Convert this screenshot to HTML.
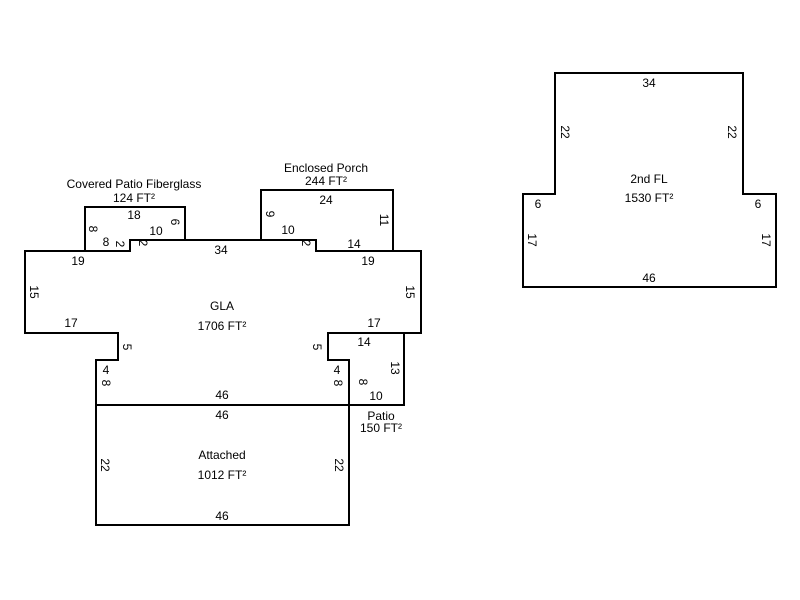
<!DOCTYPE html>
<html><head><style>body{margin:0;background:#fff}svg{display:block}text{font-family:"Liberation Sans",Arial,sans-serif;font-size:12px;fill:#000}</style></head>
<body>
<svg width="800" height="600" viewBox="0 0 800 600" xmlns="http://www.w3.org/2000/svg">
<g fill="none" stroke="#000" stroke-width="2">
<polygon points="25,251 130,251 130,240 316,240 316,251 421,251 421,333 328,333 328,360 349,360 349,405 96,405 96,360 118,360 118,333 25,333"/>
<polyline points="85,251 85,207 185,207 185,240"/>
<polyline points="261,240 261,190 393,190 393,251"/>
<polyline points="349,333 404,333 404,405 349,405"/>
<rect x="96" y="405" width="253" height="120"/>
<polygon points="555,73 743,73 743,194 776,194 776,287 523,287 523,194 555,194"/>
</g>
<g text-anchor="middle" dominant-baseline="central">
<text x="134" y="184">Covered Patio Fiberglass</text>
<text x="134" y="198">124 FT²</text>
<text x="134" y="215">18</text>
<text x="156" y="231">10</text>
<text x="106" y="242">8</text>
<text x="78" y="261">19</text>
<text x="326" y="168">Enclosed Porch</text>
<text x="326" y="181">244 FT²</text>
<text x="326" y="200">24</text>
<text x="288" y="230">10</text>
<text x="354" y="244">14</text>
<text x="221" y="250">34</text>
<text x="368" y="261">19</text>
<text x="222" y="306">GLA</text>
<text x="222" y="326">1706 FT²</text>
<text x="71" y="323">17</text>
<text x="374" y="323">17</text>
<text x="364" y="342">14</text>
<text x="106" y="370">4</text>
<text x="337" y="370">4</text>
<text x="222" y="395">46</text>
<text x="376" y="396">10</text>
<text x="381" y="416">Patio</text>
<text x="381" y="428">150 FT²</text>
<text x="222" y="415">46</text>
<text x="222" y="455">Attached</text>
<text x="222" y="475">1012 FT²</text>
<text x="222" y="516">46</text>
<text x="649" y="83">34</text>
<text x="649" y="179">2nd FL</text>
<text x="649" y="198">1530 FT²</text>
<text x="538" y="204">6</text>
<text x="758" y="204">6</text>
<text x="649" y="278">46</text>
</g>
<g text-anchor="middle" dominant-baseline="central">
<text transform="translate(93,229) rotate(90)">8</text>
<text transform="translate(120,244) rotate(90)">2</text>
<text transform="translate(143,243) rotate(90)">2</text>
<text transform="translate(175,222) rotate(90)">6</text>
<text transform="translate(270,214) rotate(90)">9</text>
<text transform="translate(306,243) rotate(90)">2</text>
<text transform="translate(384,220) rotate(90)">11</text>
<text transform="translate(34,292) rotate(90)">15</text>
<text transform="translate(410,292) rotate(90)">15</text>
<text transform="translate(127,347) rotate(90)">5</text>
<text transform="translate(317,347) rotate(90)">5</text>
<text transform="translate(106,383) rotate(90)">8</text>
<text transform="translate(338,383) rotate(90)">8</text>
<text transform="translate(363,382) rotate(90)">8</text>
<text transform="translate(395,368) rotate(90)">13</text>
<text transform="translate(105,465) rotate(90)">22</text>
<text transform="translate(339,465) rotate(90)">22</text>
<text transform="translate(565,132) rotate(90)">22</text>
<text transform="translate(732,132) rotate(90)">22</text>
<text transform="translate(532,240) rotate(90)">17</text>
<text transform="translate(766,240) rotate(90)">17</text>
</g>
</svg>
</body></html>
